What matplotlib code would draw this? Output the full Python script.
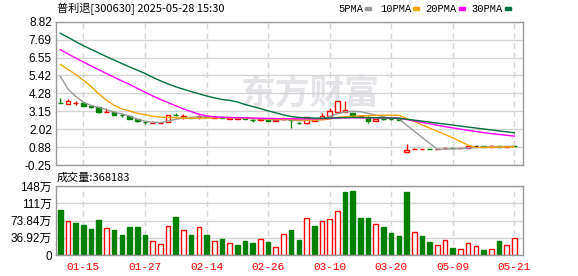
import matplotlib
matplotlib.use("Agg")
import matplotlib.pyplot as plt
from matplotlib.patches import Rectangle

# daily K-line values (60 trading days)
opens = [3.68, 3.60, 3.69, 3.70, 3.46, 3.43, 3.08, 3.08, 2.92, 2.86,
         2.67, 2.46, 2.42, 2.40, 2.50, 2.93, 2.81, 2.78, 2.80, 2.79,
         2.75, 2.77, 2.66, 2.66, 2.70, 2.62, 2.58, 2.66, 2.56, 2.64,
         2.66, 2.42, 2.38, 2.55, 2.66, 2.84, 3.10, 3.10, 3.04, 2.78,
         2.80, 2.56, 2.66, 2.65, 2.66, 0.60, 0.76, 0.76, 0.78, 0.77,
         0.81, 0.83, 0.82, 0.84, 0.93, 0.93, 0.92, 0.93, 0.91, 0.95]
closes = [3.66, 3.80, 3.70, 3.49, 3.45, 3.08, 3.09, 2.93, 2.91, 2.67,
          2.51, 2.44, 2.43, 2.41, 2.90, 2.91, 2.82, 2.75, 2.82, 2.77,
          2.76, 2.75, 2.72, 2.71, 2.69, 2.57, 2.66, 2.56, 2.58, 2.66,
          2.60, 2.38, 2.76, 2.62, 2.86, 3.18, 3.79, 3.20, 2.86, 2.82,
          2.56, 2.64, 2.64, 2.63, 2.62, 0.70, 0.77, 0.77, 0.77, 0.78,
          0.82, 0.82, 0.83, 0.96, 0.93, 0.92, 0.93, 0.91, 0.92, 0.94]
highs = [4.02, 3.91, 3.80, 3.72, 3.56, 3.43, 3.33, 3.10, 3.02, 2.88,
         2.68, 2.55, 2.54, 2.42, 2.92, 3.06, 2.97, 2.80, 2.92, 2.82,
         2.79, 2.78, 2.74, 2.73, 2.72, 2.63, 2.68, 2.67, 2.60, 2.80,
         2.67, 2.49, 2.78, 2.64, 3.03, 3.33, 3.80, 3.80, 3.05, 2.86,
         2.82, 2.66, 2.70, 2.66, 2.68, 1.09, 0.84, 0.78, 0.78, 0.79,
         0.83, 0.83, 0.84, 0.97, 0.94, 0.93, 1.01, 0.94, 0.93, 0.96]
lows = [3.65, 3.60, 3.57, 3.46, 3.35, 3.06, 3.08, 2.92, 2.79, 2.66,
        2.49, 2.35, 2.42, 2.39, 2.48, 2.84, 2.69, 2.72, 2.67, 2.74,
        2.73, 2.73, 2.64, 2.64, 2.67, 2.50, 2.56, 2.54, 2.54, 2.59,
        2.12, 2.32, 2.36, 2.53, 2.65, 2.82, 3.08, 3.08, 2.84, 2.76,
        2.38, 2.55, 2.62, 2.62, 2.60, 0.59, 0.75, 0.75, 0.76, 0.76,
        0.80, 0.81, 0.81, 0.83, 0.92, 0.91, 0.92, 0.91, 0.90, 0.93]

# volume in 万 shares, 1 = up day (red), 0 = down day (green)
volume = [96.5, 72, 68.4, 64, 55.4, 75, 57, 53, 42.5, 60,
          60, 42.5, 31, 24.5, 61, 81, 52.6, 42.5, 59, 42.5,
          31, 34, 26.6, 21, 29.5, 25, 35, 27, 18, 46,
          53, 31.7, 78.5, 62, 72, 76, 93.6, 135, 137.5, 79,
          79, 65.5, 60, 47, 40, 135, 50, 40, 27, 22,
          33, 14.4, 13.7, 26.6, 20, 10, 13.7, 29.5, 22, 36.8]
vol_up = [0, 1, 0, 0, 0, 0, 1, 0, 0, 0,
          0, 0, 1, 1, 1, 0, 1, 0, 1, 0,
          1, 0, 1, 0, 0, 0, 1, 0, 1, 1,
          0, 0, 1, 0, 1, 1, 1, 0, 0, 0,
          0, 1, 0, 0, 0, 0, 1, 0, 0, 1,
          1, 0, 1, 1, 1, 0, 1, 0, 1, 1]

ma5 = [5.37, 4.55, 4.10, 3.72, 3.52, 3.40, 3.25, 3.10, 2.98, 2.85,
       2.65, 2.52, 2.45, 2.44, 2.52, 2.64, 2.72, 2.76, 2.80, 2.80,
       2.78, 2.77, 2.74, 2.72, 2.71, 2.68, 2.67, 2.63, 2.61, 2.62,
       2.61, 2.55, 2.57, 2.57, 2.66, 2.80, 3.00, 3.10, 3.14, 3.12,
       3.02, 2.90, 2.80, 2.72, 2.66, 2.27, 1.89, 1.50, 1.13, 0.75,
       0.76, 0.77, 0.78, 0.82, 0.85, 0.88, 0.90, 0.92, 0.93, 0.93]
ma10 = [6.11, 5.80, 5.48, 5.12, 4.72, 4.25, 3.85, 3.52, 3.30, 3.17,
        3.03, 2.93, 2.84, 2.78, 2.76, 2.74, 2.72, 2.71, 2.71, 2.72,
        2.73, 2.74, 2.74, 2.73, 2.72, 2.70, 2.69, 2.67, 2.65, 2.64,
        2.63, 2.60, 2.60, 2.59, 2.62, 2.66, 2.76, 2.80, 2.83, 2.86,
        2.87, 2.89, 2.90, 2.90, 2.90, 2.70, 2.50, 2.29, 2.09, 1.88,
        1.68, 1.47, 1.24, 1.00, 0.86, 0.86, 0.87, 0.88, 0.89, 0.89]
ma20 = [7.05, 6.78, 6.52, 6.27, 6.02, 5.78, 5.54, 5.30, 5.07, 4.85,
        4.60, 4.36, 4.12, 3.90, 3.70, 3.50, 3.30, 3.13, 2.97, 2.86,
        2.80, 2.77, 2.76, 2.75, 2.74, 2.72, 2.71, 2.70, 2.69, 2.68,
        2.68, 2.67, 2.67, 2.67, 2.68, 2.69, 2.72, 2.73, 2.74, 2.74,
        2.74, 2.73, 2.73, 2.73, 2.72, 2.63, 2.54, 2.45, 2.36, 2.27,
        2.18, 2.10, 2.02, 1.94, 1.87, 1.80, 1.74, 1.68, 1.63, 1.58]
ma30 = [8.09, 7.83, 7.56, 7.30, 7.07, 6.84, 6.61, 6.39, 6.17, 5.96,
        5.75, 5.55, 5.30, 5.08, 4.88, 4.70, 4.55, 4.40, 4.26, 4.12,
        4.00, 3.90, 3.84, 3.74, 3.58, 3.45, 3.32, 3.18, 3.05, 2.92,
        2.82, 2.76, 2.74, 2.72, 2.71, 2.72, 2.74, 2.75, 2.76, 2.76,
        2.75, 2.74, 2.73, 2.72, 2.71, 2.65, 2.59, 2.53, 2.46, 2.40,
        2.34, 2.28, 2.21, 2.15, 2.09, 2.03, 1.97, 1.91, 1.85, 1.79]

tick_idx = [3, 11, 19, 27, 35, 43, 51, 59]
tick_dates = ["01-15", "01-27", "02-14", "02-26", "03-10", "03-20", "05-09", "05-21"]
price_ticks = [-0.25, 0.88, 2.02, 3.15, 4.28, 5.42, 6.55, 7.69, 8.82]
vol_ticks = [0, 36.92, 73.84, 110.76, 147.68]
vol_labels = ["0", "36.92万", "73.84万", "111万", "148万"]

RED = "#ff0000"
GREEN = "#008000"
GRID = "#d4d4d4"
FRAME = "#999999"
CJK = ["Noto Sans CJK SC", "DejaVu Sans"]
NUM = ["Liberation Sans", "Noto Sans CJK SC"]

W, H = 578, 276
fig = plt.figure(figsize=(W / 100, H / 100), dpi=100)
ax = fig.add_axes([56 / W, 1 - 165 / H, 467 / W, 143.3 / H])
axv = fig.add_axes([56 / W, 1 - 255 / H, 467 / W, 69 / H])

n = len(closes)
x = list(range(n))

# price panel
for i in x:
    o, c, h, l = opens[i], closes[i], highs[i], lows[i]
    if c > o:
        col, face = RED, "white"
    elif c < o:
        col, face = GREEN, GREEN
    else:
        col, face = "black", "black"
    top, bot = max(o, c), min(o, c)
    ax.vlines(i, top, h, color=col, lw=1, zorder=2)
    ax.vlines(i, l, bot, color=col, lw=1, zorder=2)
    ax.bar(i, max(top - bot, 0.002), bottom=bot, width=0.6, facecolor=face,
           edgecolor=col, lw=1, zorder=2)

ax.plot(x, ma5, color="#999999", lw=1, zorder=3)
ax.plot(x, ma10, color="#f5a400", lw=1, zorder=3)
ax.plot(x, ma20, color="#ff00ff", lw=1, zorder=3)
ax.plot(x, ma30, color="#00703c", lw=1, zorder=3)

ax.set_ylim(-0.25, 8.82)
ax.set_yticks(price_ticks)
ax.set_yticklabels(["%.2f" % v for v in price_ticks], family=NUM, fontsize=8.5)

# volume panel
for i in x:
    if vol_up[i]:
        axv.bar(i, volume[i], width=0.6, facecolor="white", edgecolor=RED, lw=1, zorder=2)
    else:
        axv.bar(i, volume[i], width=0.6, facecolor=GREEN, edgecolor=GREEN, lw=1, zorder=2)

axv.set_ylim(0, 147.68)
axv.set_yticks(vol_ticks)
axv.set_yticklabels(vol_labels, family=NUM, fontsize=8.5)
axv.set_xticks(tick_idx)
axv.set_xticklabels(tick_dates, family="Liberation Mono", fontsize=8, color=RED)
ax.set_xticks(tick_idx)
ax.set_xticklabels([])

for a in (ax, axv):
    a.set_xlim(-0.56, 60.13)
    a.grid(axis="y", color=GRID, lw=1, ls="-")
    a.grid(axis="x", color=GRID, lw=1, ls=(0, (4, 3)))
    a.set_axisbelow(True)
    a.tick_params(length=0, pad=3)
    for s in a.spines.values():
        s.set_color(FRAME)
        s.set_linewidth(1)
axv.tick_params(axis="x", pad=5)

# watermark
ax.text(310 / W, 1 - 93 / H, "东方财富", transform=fig.transFigure, ha="center",
        va="center", fontsize=25, fontweight="bold", color="#e4e4e8",
        family=CJK, zorder=0.5)

# header texts
fig.text(57 / W, 1 - 9 / H, "普利退[300630] 2025-05-28 15:30", family=CJK,
         fontsize=8, va="center", ha="left")
fig.text(57 / W, 1 - 177.5 / H, "成交量:368183", family=CJK, fontsize=8,
         va="center", ha="left")

# legend
legend_items = [("5PMA", 338, 365, "#999999"), ("10PMA", 380, 413, "#f5a400"),
                ("20PMA", 425, 459, "#ff00ff"), ("30PMA", 471, 505, "#00703c")]
for label, tx, mx, col in legend_items:
    fig.text(tx / W, 1 - 9 / H, label, family="Liberation Mono", fontsize=7.5,
             va="center", ha="left")
    fig.patches.append(Rectangle((mx / W, 1 - 10 / H), 6 / W, 3 / H, color=col,
                                 transform=fig.transFigure, figure=fig))

fig.savefig("out.png", dpi=100)
